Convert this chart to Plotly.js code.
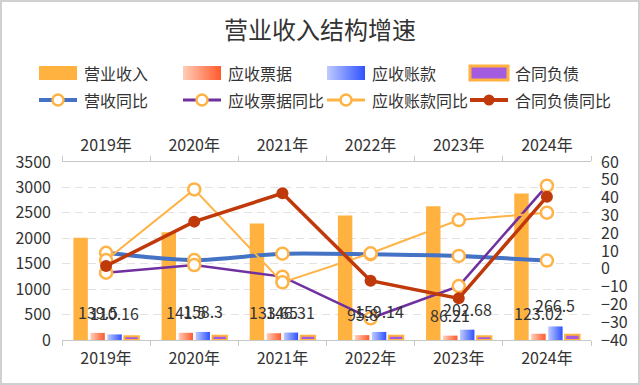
<!DOCTYPE html>
<html><head><meta charset="utf-8">
<script src="https://cdn.plot.ly/plotly-3.0.1.min.js"></script>
<style>
html,body{margin:0;padding:0;background:#fff}
#wrap{position:relative;width:640px;height:385px}
#chart{width:640px;height:385px}
#frame{position:absolute;left:0;top:0;width:640px;height:385px;box-sizing:border-box;border:2px solid #d0d0d0;pointer-events:none}
</style></head><body>
<div id="wrap"><div id="chart"></div><div id="frame"></div></div>
<script>
const titleText = '营业收入结构增速';
const years = ['2019年','2020年','2021年','2022年','2023年','2024年'];
const barNames = ['营业收入','应收票据','应收账款','合同负债'];
const lineNames = ['营收同比','应收票据同比','应收账款同比','合同负债同比'];
const revenue = [2010, 2120, 2290, 2450, 2630, 2880];
const notesRecv = [139.5, 141.5, 133.65, 95.8, 86.21, 123.02];
const acctRecv = [110.16, 158.3, 146.31, 159.14, 202.68, 266.5];
const contractLiab = [75, 85, 85, 85, 75, 105];
const revenueYoY = [9.0, 4.9, 8.5, 8.2, 7.2, 4.6];
const notesYoY = [-2.2, 2.1, -4.4, -27.8, -9.7, 46.7];
const acctYoY = [4.9, 44.6, -7.6, 8.7, 27.4, 31.5];
const contractYoY = [1.6, 26.5, 42.4, -6.7, -16.6, 40.5];

const FONT = '"Noto Sans CJK SC", "Noto Sans", sans-serif';
const TXT = '#333333';
const ORANGE = '#FFB240';
const cNotes = '#FF7A52', cAcct = '#5470FF', cPurpleFill = '#A35BE0';
const cBlue = '#4472C4', cPurple = '#7030A0', cLineOrange = '#FFB347', cRed = '#C0390B';

const hollow = {symbol:'circle', size:12, color:'#ffffff', line:{color:cLineOrange, width:2.5}};

const traces = [
  {type:'bar', name:barNames[0], x:years, y:revenue, marker:{color:ORANGE}, xaxis:'x', yaxis:'y'},
  {type:'bar', name:barNames[1], x:years, y:notesRecv, marker:{color:cNotes}, xaxis:'x', yaxis:'y'},
  {type:'bar', name:barNames[2], x:years, y:acctRecv, marker:{color:cAcct}, xaxis:'x', yaxis:'y'},
  {type:'bar', name:barNames[3], x:years, y:contractLiab, marker:{color:cPurpleFill, line:{color:ORANGE, width:2}}, xaxis:'x', yaxis:'y'},
  {type:'scatter', mode:'lines+markers', name:lineNames[0], x:years, y:revenueYoY, xaxis:'x2', yaxis:'y2',
    line:{color:cBlue, width:4, shape:'spline', smoothing:0.8}, marker:hollow},
  {type:'scatter', mode:'lines+markers', name:lineNames[1], x:years, y:notesYoY, xaxis:'x2', yaxis:'y2',
    line:{color:cPurple, width:2.5}, marker:hollow},
  {type:'scatter', mode:'lines+markers', name:lineNames[2], x:years, y:acctYoY, xaxis:'x2', yaxis:'y2',
    line:{color:cLineOrange, width:2}, marker:hollow},
  {type:'scatter', mode:'lines+markers', name:lineNames[3], x:years, y:contractYoY, xaxis:'x2', yaxis:'y2',
    line:{color:cRed, width:3.5}, marker:{symbol:'circle', size:12, color:cRed}}
];

// plot area in pixels
const L = 62, R = 49, T = 162, B = 45, W = 640, H = 385;
const PW = W - L - R, PH = H - T - B;
const px = v => (v - L) / PW;
const py = v => (H - B - v) / PH;

// value labels for the two receivable series
const slot = (PW / years.length) * (1 - 0.23) / 4;
const annotations = [];
years.forEach((yr, i) => {
  annotations.push({x:yr, xref:'x', y:notesRecv[i], yref:'y', xshift:-0.5*slot, yshift:21,
    text:String(notesRecv[i]), showarrow:false, font:{family:FONT, size:16, color:TXT}, xanchor:'center', yanchor:'middle'});
  annotations.push({x:yr, xref:'x', y:acctRecv[i], yref:'y', xshift:0.5*slot, yshift:21,
    text:String(acctRecv[i]), showarrow:false, font:{family:FONT, size:16, color:TXT}, xanchor:'center', yanchor:'middle'});
});

// custom legend
const colX = [39, 183, 327, 470];
const row1 = 73, row2 = 100, sw = 38;
const shapes = [];
const swatchStyle = [
  {fill:ORANGE, line:{width:0}},
  {fill:cNotes, line:{width:0}},
  {fill:cAcct, line:{width:0}},
  {fill:cPurpleFill, line:{color:ORANGE, width:3}}
];
const legendSwatchIdx = [];
barNames.forEach((n, i) => {
  legendSwatchIdx.push(shapes.length);
  shapes.push({type:'rect', xref:'paper', yref:'paper', x0:px(colX[i]), x1:px(colX[i]+sw), y0:py(row1+7), y1:py(row1-7),
    fillcolor:swatchStyle[i].fill, line:swatchStyle[i].line, layer:'above'});
  annotations.push({xref:'paper', yref:'paper', x:px(colX[i]+43), y:py(row1), text:n, showarrow:false,
    xanchor:'left', yanchor:'middle', font:{family:FONT, size:16, color:TXT}});
});
const lineStyle = [
  {c:cBlue, w:4, hollow:true}, {c:cPurple, w:3, hollow:true}, {c:cLineOrange, w:3, hollow:true}, {c:cRed, w:4, hollow:false}
];
lineNames.forEach((n, i) => {
  const s = lineStyle[i];
  shapes.push({type:'line', xref:'paper', yref:'paper', x0:px(colX[i]), x1:px(colX[i]+sw), y0:py(row2), y1:py(row2),
    line:{color:s.c, width:s.w}, layer:'above'});
  shapes.push({type:'circle', xref:'paper', yref:'paper', xsizemode:'pixel', ysizemode:'pixel',
    xanchor:px(colX[i]+sw/2), yanchor:py(row2), x0:-5.5, x1:5.5, y0:-5.5, y1:5.5,
    fillcolor: s.hollow ? '#ffffff' : cRed, line:{color: s.hollow ? cLineOrange : cRed, width: s.hollow ? 2.5 : 0}, layer:'above'});
  annotations.push({xref:'paper', yref:'paper', x:px(colX[i]+43), y:py(row2), text:n, showarrow:false,
    xanchor:'left', yanchor:'middle', font:{family:FONT, size:16, color:TXT}});
});

const axisX = {
  type:'category', categoryorder:'array', categoryarray:years, range:[-0.5, years.length-0.5],
  tickson:'boundaries', ticks:'outside', ticklen:5, tickcolor:'#c8c8c8', tickwidth:1,
  showline:true, linecolor:'#c8c8c8', linewidth:1, showgrid:false, zeroline:false,
  tickfont:{family:FONT, size:16, color:TXT}, fixedrange:true
};

const layout = {
  width:W, height:H,
  margin:{l:L, r:R, t:T, b:B, pad:0},
  paper_bgcolor:'#ffffff', plot_bgcolor:'#ffffff',
  showlegend:false,
  barmode:'group', bargap:0.23, bargroupgap:0.15,
  title:{text:titleText, x:0.5, xref:'container', xanchor:'center', y:1-31/H, yref:'container', yanchor:'middle',
    font:{family:FONT, size:24, color:TXT}},
  xaxis:Object.assign({}, axisX, {side:'bottom', anchor:'y', ticklabelstandoff:4}),
  xaxis2:Object.assign({}, axisX, {side:'top', overlaying:'x', anchor:'y', ticklabelstandoff:4}),
  yaxis:{range:[0,3500], dtick:500, tick0:0, showgrid:true, gridcolor:'#e2e2e2', griddash:'8px,5px', gridwidth:1,
    zeroline:false, showline:false, ticks:'', ticklabelstandoff:10,
    tickfont:{family:FONT, size:16, color:TXT}, fixedrange:true},
  yaxis2:{range:[-40,60], dtick:10, tick0:0, overlaying:'y', side:'right', anchor:'x', showgrid:false, zeroline:false,
    showline:false, ticks:'', ticklabelstandoff:9, tickfont:{family:FONT, size:16, color:TXT}, fixedrange:true},
  shapes:shapes,
  annotations:annotations
};

const gd = document.getElementById('chart');
Plotly.newPlot(gd, traces, layout, {staticPlot:true, displayModeBar:false}).then(() => {
  try {
    const NS = 'http://www.w3.org/2000/svg';
    const svg = gd.querySelector('svg.main-svg');
    let defs = svg.querySelector('defs');
    if (!defs) { defs = document.createElementNS(NS, 'defs'); svg.insertBefore(defs, svg.firstChild); }
    const grad = (id, c1, c2) => {
      const g = document.createElementNS(NS, 'linearGradient');
      g.setAttribute('id', id);
      g.setAttribute('x1','0'); g.setAttribute('y1','0'); g.setAttribute('x2','1'); g.setAttribute('y2','0');
      [[0,c1],[1,c2]].forEach(([o,c]) => {
        const s = document.createElementNS(NS, 'stop');
        s.setAttribute('offset', o); s.setAttribute('stop-color', c); g.appendChild(s);
      });
      defs.appendChild(g);
    };
    grad('gNotes', '#FFCDB8', '#FF5A2C');
    grad('gAcct', '#BFCBFF', '#2F52FF');
    const bars = gd.querySelectorAll('.barlayer .trace.bars');
    if (bars[1]) bars[1].querySelectorAll('path').forEach(p => p.style.fill = 'url(#gNotes)');
    if (bars[2]) bars[2].querySelectorAll('path').forEach(p => p.style.fill = 'url(#gAcct)');
    gd.querySelectorAll('.shapelayer path').forEach(p => {
      const i = +p.getAttribute('data-index');
      if (i === legendSwatchIdx[1]) p.style.fill = 'url(#gNotes)';
      if (i === legendSwatchIdx[2]) p.style.fill = 'url(#gAcct)';
    });
  } catch (e) {}
});
</script>
</body></html>
